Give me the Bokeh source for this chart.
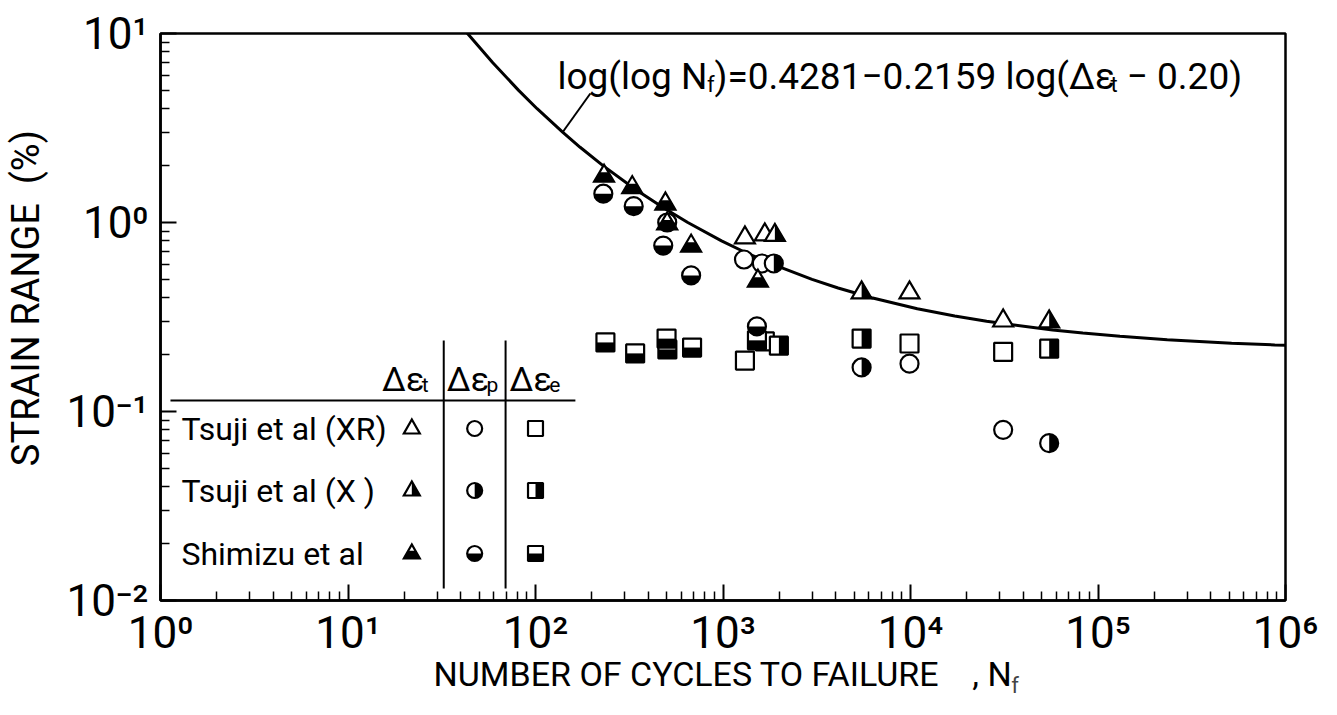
import numpy as np
from math import pi
from bokeh.plotting import figure
from bokeh.models import Label, Title, FixedTicker, CustomJSTickFormatter
from bokeh.embed import file_html
from bokeh.resources import INLINE

# ---------------- data ----------------
# Tsuji et al (XR): open symbols
xr_t_n = [1309, 1671, 9880, 31200]
xr_t_e = [0.834, 0.865, 0.427, 0.303]
xr_p_n = [1294, 1611, 9880, 31200]
xr_p_e = [0.637, 0.607, 0.179, 0.080]
xr_e_n = [1309, 1671, 9880, 31200]
xr_e_e = [0.186, 0.235, 0.229, 0.207]
# Tsuji et al (X): right half black
x_t_n = [1891, 5486, 54900]
x_t_e = [0.86, 0.427, 0.300]
x_p_n = [1866, 5486, 54900]
x_p_e = [0.607, 0.171, 0.068]
x_e_n = [1986, 5486, 54900]
x_e_e = [0.223, 0.243, 0.215]
# Shimizu et al: bottom half black
sh_t_n = [232, 328, 493, 504, 676, 1535]
sh_t_e = [1.77, 1.54, 1.26, 0.99, 0.755, 0.493]
sh_p_n = [230, 334, 504, 480, 676, 1517]
sh_p_e = [1.42, 1.22, 1.00, 0.755, 0.525, 0.282]
sh_e_n = [236, 340, 500, 505, 684, 1517]
sh_e_e = [0.232, 0.203, 0.243, 0.213, 0.218, 0.238]

# fitted curve  log(log Nf) = 0.4281 - 0.2159 log(de_t - 0.20), points read along it
curve_strain = [12, 10, 7, 5, 4, 3, 2.5, 2, 1.5, 1.2, 1.0, 0.8, 0.7, 0.6, 0.5, 0.45,
                0.4, 0.35, 0.32, 0.3, 0.27, 0.26, 0.25, 0.24, 0.23, 0.225, 0.2235]
curve_n = [37.4, 43.4, 59.2, 81.3, 102, 140, 173, 229, 340, 479, 649, 982, 1294, 1846,
           2985, 4110, 6209, 10870, 17220, 25470, 57300, 83000, 131000, 234000, 516000,
           877000, 1060000]

x_tick_exp = [0, 1, 2, 3, 4, 5, 6]
x_tick_labels = ["10\u2070", "10\u00b9", "10\u00b2", "10\u00b3", "10\u2074", "10\u2075", "10\u2076"]
y_tick_exp = [-2, -1, 0, 1]
y_tick_labels = ["10\u207b\u00b2", "10\u207b\u00b9", "10\u2070", "10\u00b9"]
row_labels = ["Tsuji et al (XR)", "Tsuji et al (X )", "Shimizu et al"]

# ---------------- layout ----------------
W, H = 1337, 715
L, R, T, B = 157, 1285, 33, 600
DX = (R - L) / 6.0
DY = (B - T) / 3.0
FONT = "Roboto"
LW = 2.2

def X(px):
    return 10 ** ((px - L) / DX)

def Y(py):
    return 10 ** (1 - (py - T) / DY)

def FX(s):
    return 10 ** (s / DX)

def FY(s):
    return 10 ** (s / DY)

p = figure(width=W, height=H, x_axis_type="log", y_axis_type="log",
           x_range=(1, 1e6), y_range=(0.01, 10), output_backend="svg",
           toolbar_location=None, min_border_left=L, min_border_right=W - R,
           min_border_top=T, min_border_bottom=H - B)
p.background_fill_color = "white"
p.border_fill_color = "white"
p.outline_line_color = "black"
p.outline_line_width = 2.5
p.xgrid.visible = False
p.ygrid.visible = False

minor_x = [m * 10 ** k for k in range(0, 6) for m in range(2, 10)]
minor_y = [m * 10.0 ** k for k in range(-2, 1) for m in range(2, 10)]
p.xaxis.ticker = FixedTicker(ticks=[10.0 ** k for k in x_tick_exp], minor_ticks=minor_x)
p.yaxis.ticker = FixedTicker(ticks=[10.0 ** k for k in y_tick_exp], minor_ticks=minor_y)
fmt_code = "const k = Math.round(Math.log10(tick)); const i = exps.indexOf(k); return i >= 0 ? labels[i] : '';"
p.xaxis.formatter = CustomJSTickFormatter(args=dict(exps=x_tick_exp, labels=x_tick_labels), code=fmt_code)
p.yaxis.formatter = CustomJSTickFormatter(args=dict(exps=y_tick_exp, labels=y_tick_labels), code=fmt_code)
for ax in (p.xaxis[0], p.yaxis[0]):
    ax.axis_line_width = 2.5
    ax.axis_line_color = "black"
    ax.major_tick_line_width = 2
    ax.minor_tick_line_width = 1.5
    ax.major_tick_in = 16
    ax.major_tick_out = 0
    ax.minor_tick_in = 9
    ax.minor_tick_out = 0
    ax.major_label_text_font = FONT
    ax.major_label_text_font_size = "44px"
    ax.major_label_text_color = "black"
    ax.axis_label_text_font = FONT
    ax.axis_label_text_font_style = "normal"
    ax.axis_label_text_color = "black"
p.xaxis.major_label_standoff = 6
p.yaxis.major_label_standoff = 12
p.xaxis.axis_label = "NUMBER OF CYCLES TO FAILURE\u00a0\u00a0\u00a0\u00a0, N"
p.xaxis.axis_label_text_font_size = "34px"
p.xaxis.axis_label_standoff = -8
p.yaxis.axis_label = "\u00a0\u00a0\u00a0\u00a0STRAIN RANGE\u00a0\u00a0(%)"
p.yaxis.axis_label_text_font_size = "38px"
p.yaxis.axis_label_standoff = 16

# ---------------- text helpers ----------------
AW = {' ': .248, '\u00a0': .248, '(': .341, ')': .348, ',': .192, '.': .263, '=': .549,
      '%': .732, '\u2212': .554, '\u0394': .654, '\u03b5': .519}
for ch in '0123456789':
    AW[ch] = .5615
AW.update(dict(zip('ABCDEFGHIJKLMNOPQRSTUVWXYZ',
                   [.652, .623, .651, .655, .568, .553, .681, .713, .272, .552, .627, .539, .873,
                    .713, .688, .631, .688, .616, .593, .597, .648, .636, .887, .627, .601, .599])))
AW.update(dict(zip('abcdefghijklmnopqrstuvwxyz',
                   [.543, .561, .523, .563, .529, .347, .561, .551, .243, .239, .507, .243, .876,
                    .552, .570, .561, .568, .338, .516, .327, .551, .484, .751, .496, .473, .496])))

def tw(text, size):
    return sum(AW.get(c, .56) for c in text) * size

def lab(px, py, text, size, align="left", baseline="alphabetic"):
    p.add_layout(Label(x=X(px), y=Y(py), text=text, text_font=FONT,
                       text_font_size=f"{size}px", text_align=align,
                       text_baseline=baseline, text_color="black"))

def run(px, py, parts):
    x = px
    for text, size, dy in parts:
        lab(x, py + dy, text, size)
        x += tw(text, size)
    return x

# subscript f of N_f in the x-axis title
title_w = tw(p.xaxis.axis_label, 34)
f_left = (L + R) / 2.0 + title_w / 2.0 - 5
p.add_layout(Title(text="f", align="left", offset=f_left - L, standoff=-48,
                   text_font=FONT, text_font_size="22px", text_font_style="normal",
                   vertical_align="top"), "below")

# ---------------- marker helpers ----------------
def squares(n, e, kind, s=9):
    n = np.asarray(n, float); e = np.asarray(e, float)
    l, r = n / FX(s), n * FX(s)
    b, t = e / FY(s), e * FY(s)
    p.quad(left=l, right=r, bottom=b, top=t, fill_color="white", line_color=None)
    if kind == "right":
        p.quad(left=n, right=r, bottom=b, top=t, fill_color="black", line_color=None)
    elif kind == "bottom":
        p.quad(left=l, right=r, bottom=b, top=e, fill_color="black", line_color=None)
    p.quad(left=l, right=r, bottom=b, top=t, fill_color=None, line_color="black", line_width=LW)

def circles(n, e, kind, r=9):
    n = np.asarray(n, float); e = np.asarray(e, float)
    p.scatter(n, e, marker="circle", size=2 * r, fill_color="white", line_color=None)
    if kind == "right":
        p.wedge(n, e, radius=r, radius_units="screen", start_angle=-pi / 2, end_angle=pi / 2,
                fill_color="black", line_color=None)
    elif kind == "bottom":
        p.wedge(n, e, radius=r, radius_units="screen", start_angle=pi, end_angle=2 * pi,
                fill_color="black", line_color=None)
    p.scatter(n, e, marker="circle", size=2 * r, fill_color=None, line_color="black", line_width=LW)

def triangles(n, e, kind, hw=10, hb=6, ht=11):
    xs = [[ni / FX(hw), ni * FX(hw), ni] for ni in n]
    ys = [[ei / FY(hb), ei / FY(hb), ei * FY(ht)] for ei in e]
    p.patches(xs, ys, fill_color="white", line_color=None)
    if kind == "right":
        fx = [[ni, ni * FX(hw), ni] for ni in n]
        fy = [[ei / FY(hb), ei / FY(hb), ei * FY(ht)] for ei in e]
        p.patches(fx, fy, fill_color="black", line_color=None)
    elif kind == "bottom":
        mid = -hb + 0.55 * (hb + ht)
        hwm = hw * 0.45
        fx = [[ni / FX(hw), ni * FX(hw), ni * FX(hwm), ni / FX(hwm)] for ni in n]
        fy = [[ei / FY(hb), ei / FY(hb), ei * FY(mid), ei * FY(mid)] for ei in e]
        p.patches(fx, fy, fill_color="black", line_color=None)
    p.patches(xs, ys, fill_color=None, line_color="black", line_width=LW, line_join="miter")

# ---------------- curve ----------------
p.line(curve_n, curve_strain, line_color="black", line_width=3)

# ---------------- data marks ----------------
squares(xr_e_n, xr_e_e, "open")
squares(x_e_n, x_e_e, "right")
squares(sh_e_n, sh_e_e, "bottom")
circles(xr_p_n, xr_p_e, "open")
circles(x_p_n, x_p_e, "right")
circles(sh_p_n, sh_p_e, "bottom")
triangles(sh_t_n, sh_t_e, "bottom")
triangles(xr_t_n, xr_t_e, "open")
triangles(x_t_n, x_t_e, "right")

# ---------------- legend table ----------------
p.segment(x0=[X(167)], y0=[Y(400)], x1=[X(573)], y1=[Y(400)], line_color="black", line_width=2)
p.segment(x0=[X(441), X(503)], y0=[Y(340), Y(340)], x1=[X(441), X(503)], y1=[Y(588), Y(588)],
          line_color="black", line_width=2)
run(379, 378, [("\u0394\u03b5", 34, 0), ("t", 21, 6)])
run(444, 378, [("\u0394\u03b5", 34, 0), ("p", 21, 6)])
run(507, 378, [("\u0394\u03b5", 34, 0), ("e", 21, 6)])
row_y = [428, 490, 553]
kinds = ["open", "right", "bottom"]
for txt, ry, k in zip(row_labels, row_y, kinds):
    lab(178, ry, txt, 32, baseline="middle")
    triangles([X(409)], [Y(ry)], k, hw=8, hb=5, ht=9)
    circles([X(472)], [Y(ry)], k, r=7.5)
    squares([X(533)], [Y(ry)], k, s=7.5)

# ---------------- equation & leader ----------------
run(555, 76, [("log(log N", 37, 0), ("f", 22, 8), (")=0.4281\u22120.2159 log(\u0394\u03b5", 37, 0),
              ("t", 22, 8), ("\u00a0\u2212 0.20)", 37, 0)])
p.segment(x0=[X(588)], y0=[Y(93)], x1=[X(560)], y1=[Y(132)], line_color="black", line_width=2)

open("out.html", "w").write(file_html(p, INLINE))
